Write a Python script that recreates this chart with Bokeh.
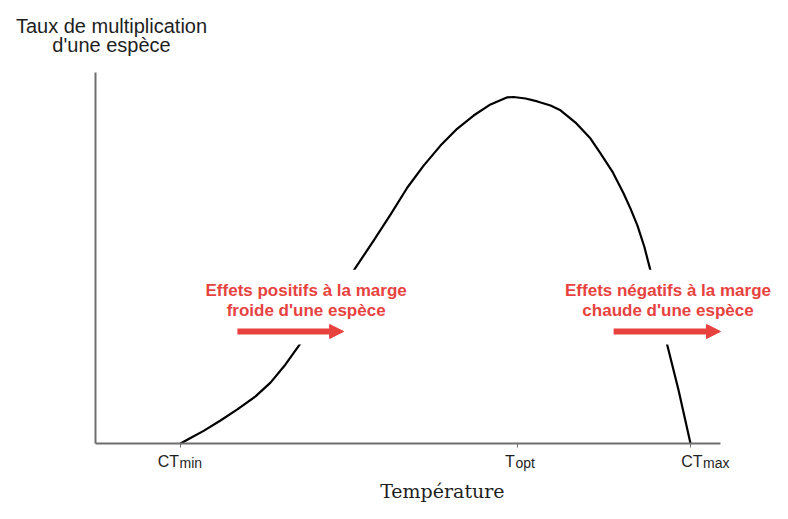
from bokeh.plotting import figure
from bokeh.models import (Range1d, FixedTicker, Label, Arrow, NormalHead,
                          BoxAnnotation, CustomJSTickFormatter)
from bokeh.embed import file_html
from bokeh.resources import INLINE

# ---------------- data ----------------
temperature = [13.6, 15.2, 17.3, 20.0, 22.7, 25.6, 28.0, 30.4, 32.8, 35.2,
               38.1, 41.3, 44.5, 47.2, 49.9, 52.5, 55.2, 57.9, 60.5, 63.2,
               65.9, 66.9, 68.8, 70.7, 72.8, 74.4, 76.8, 79.2, 80.8, 82.7,
               84.5, 85.6, 86.7, 87.8, 88.8, 90.1, 91.5, 93.3, 95.2]
rate = [0.0, 0.015, 0.034, 0.062, 0.092, 0.127, 0.164, 0.213, 0.270, 0.326,
        0.394, 0.466, 0.547, 0.617, 0.690, 0.749, 0.803, 0.849, 0.884, 0.914,
        0.933, 0.934, 0.930, 0.922, 0.911, 0.898, 0.865, 0.822, 0.782, 0.733,
        0.674, 0.633, 0.588, 0.531, 0.466, 0.372, 0.264, 0.143, 0.0]

tick_values = [13.6, 67.5, 95.2]
tick_main = ["CT", "T", "CT"]
tick_sub = ["min", "opt", "max"]

title_lines = ["Taux de multiplication", "d'une espèce"]
x_label = "Température"
left_text = ["Effets positifs à la marge", "froide d'une espèce"]
right_text = ["Effets négatifs à la marge", "chaude d'une espèce"]

RED = "#e8423f"
DARK = "#1e1e1e"
AXIS = "#6e6e6e"

W, H = 772, 503
# axis box: x 0..100 -> px 95..720 ; y 0..1 -> px 443..72
sx = 625 / 100.0
sy = 371 / 1.0
x_range = Range1d(-95 / sx, (W - 95) / sx)
y_range = Range1d(-(H - 443) / sy, 443 / sy)

p = figure(width=W, height=H, x_range=x_range, y_range=y_range,
           output_backend="svg", toolbar_location=None,
           min_border_left=0, min_border_right=0, min_border_top=0,
           min_border_bottom=0)
p.grid.visible = False
p.outline_line_color = None
p.background_fill_color = "white"
p.border_fill_color = "white"

# x axis through y = 0
p.xaxis.fixed_location = 0
p.xaxis.bounds = (0, 100)
p.xaxis.ticker = FixedTicker(ticks=tick_values)
p.xaxis.formatter = CustomJSTickFormatter(code="return ''")
p.xaxis.major_tick_in = 0
p.xaxis.major_tick_out = 4
p.xaxis.major_tick_line_color = AXIS
p.xaxis.major_tick_line_width = 1
p.xaxis.minor_tick_line_color = None
p.xaxis.axis_line_color = AXIS
p.xaxis.axis_line_width = 2

# y axis through x = 0
p.yaxis.fixed_location = 0
p.yaxis.bounds = (0, 1)
p.yaxis.ticker = FixedTicker(ticks=[])
p.yaxis.major_tick_line_color = None
p.yaxis.minor_tick_line_color = None
p.yaxis.axis_line_color = AXIS
p.yaxis.axis_line_width = 2

# curve
p.line(temperature, rate, line_color="black", line_width=2.2, line_join="round")

# white boxes behind annotations
for l, r in [(16.0, 51.5), (76.0, 104.0)]:
    p.add_layout(BoxAnnotation(left=l, right=r, bottom=0.267, top=0.468,
                               fill_color="white", fill_alpha=1.0,
                               line_alpha=0.0))

# red annotation texts
def add_block(cx, lines, ax0, ax1):
    for i, t in enumerate(lines):
        p.add_layout(Label(x=cx, y=0.396, y_offset=6 - 20 * i, text=t,
                           text_align="center", text_baseline="alphabetic",
                           text_font="Liberation Sans", text_font_style="bold",
                           text_font_size="17px", text_color=RED))
    p.add_layout(Arrow(x_start=ax0, y_start=0.302, x_end=ax1, y_end=0.302,
                       line_color=RED, line_width=6, line_cap="butt",
                       end=NormalHead(size=14, fill_color=RED, line_color=RED,
                                      line_width=1)))

add_block(33.7, left_text, 22.7, 39.7)
add_block(91.6, right_text, 82.9, 100.0)

# tick labels with subscripts
junction = [-1.5, -2.5, 12.0]
for tv, m, s, j in zip(tick_values, tick_main, tick_sub, junction):
    p.add_layout(Label(x=tv, y=0, x_offset=j, y_offset=-18, text=m,
                       text_align="right", text_baseline="alphabetic",
                       text_font="Liberation Sans", text_font_size="16px",
                       text_color=DARK))
    p.add_layout(Label(x=tv, y=0, x_offset=j + 0.5, y_offset=-19, text=s,
                       text_align="left", text_baseline="alphabetic",
                       text_font="Liberation Sans", text_font_size="14px",
                       text_color=DARK))

# title (y axis label) above axis
for t, off in zip(title_lines, [47, 28]):
    p.add_layout(Label(x=2.56, y=1.0, y_offset=off, text=t, text_align="center",
                       text_baseline="alphabetic", text_font="Liberation Sans",
                       text_font_size="20px", text_color=DARK))

# x axis label
p.add_layout(Label(x=55.5, y=0, y_offset=-47, text=x_label, text_align="center",
                   text_baseline="alphabetic", text_font="DejaVu Serif",
                   text_font_size="19px", text_color=DARK))

open("out.html", "w").write(file_html(p, INLINE))
